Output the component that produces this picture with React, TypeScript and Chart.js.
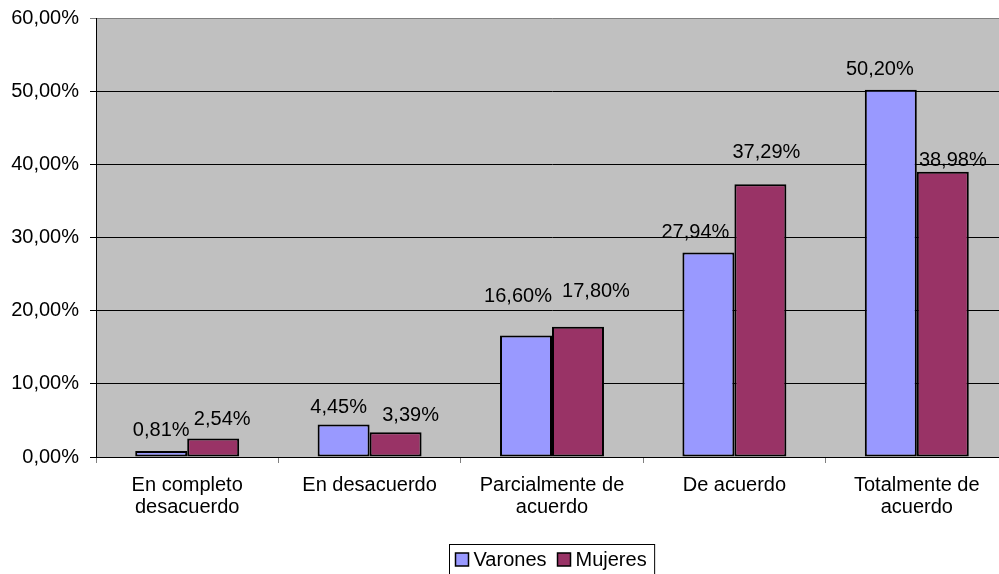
import React, { useEffect, useRef } from "react";
import { Chart, registerables } from "chart.js";

Chart.register(...registerables);

const categories: string[][] = [
  ["En completo", "desacuerdo"],
  ["En desacuerdo"],
  ["Parcialmente de", "acuerdo"],
  ["De acuerdo"],
  ["Totalmente de", "acuerdo"],
];
const seriesNames = ["Varones", "Mujeres"];
const varones = [0.81, 4.45, 16.6, 27.94, 50.2];
const mujeres = [2.54, 3.39, 17.8, 37.29, 38.98];
const yMin = 0;
const yMax = 60;
const yStep = 10;

// label placement nudges (style only): [dx, lift above bar top]
const varonesLabelShift = [[0, 15], [-5, 11], [-8, 34], [-13, 15], [-11, 15]];
const mujeresLabelShift = [[9, 13], [15, 11], [18, 30], [6, 26], [10, 6]];

const FONT = "Arial, 'Liberation Sans', sans-serif";
const FS = 20;
const fmt = (v: number) => v.toFixed(2).replace(".", ",") + "%";

const bgPlugin = {
  id: "plotBg",
  beforeDraw(chart: any) {
    const { ctx, chartArea: a } = chart;
    ctx.save();
    ctx.fillStyle = "#C0C0C0";
    ctx.fillRect(a.left, a.top, a.right - a.left, a.bottom - a.top);
    ctx.restore();
  },
};

const labelPlugin = {
  id: "valLabels",
  afterDatasetsDraw(chart: any) {
    const { ctx } = chart;
    const shifts = [varonesLabelShift, mujeresLabelShift];
    ctx.save();
    ctx.font = `${FS}px ${FONT}`;
    ctx.fillStyle = "#000";
    ctx.textAlign = "center";
    ctx.textBaseline = "alphabetic";
    chart.data.datasets.forEach((ds: any, di: number) => {
      const meta = chart.getDatasetMeta(di);
      meta.data.forEach((el: any, i: number) => {
        const [dx, lift] = shifts[di][i];
        ctx.fillText(fmt(ds.data[i]), el.x + dx, el.y - lift);
      });
    });
    ctx.restore();
  },
};

const legendPlugin = {
  id: "boxLegend",
  afterDraw(chart: any) {
    const { ctx, chartArea: a } = chart;
    ctx.save();
    ctx.font = `${FS}px ${FONT}`;
    const widths = chart.data.datasets.map((d: any) => ctx.measureText(d.label).width);
    const sw = 13;
    const total = 6 + (sw + 5 + widths[0]) + 11 + (sw + 5 + widths[1]) + 8;
    const cx = (a.left + a.right) / 2;
    const left = Math.round(cx - total / 2) + 0.5;
    const top = chart.height - 30 + 0.5;
    ctx.strokeStyle = "#000";
    ctx.lineWidth = 1;
    ctx.strokeRect(left, top, total, 40);
    let x = left + 6;
    const midY = top + 15;
    chart.data.datasets.forEach((d: any, i: number) => {
      ctx.fillStyle = d.backgroundColor;
      ctx.fillRect(x, midY - 6.5, sw, sw);
      ctx.lineWidth = 1.5;
      ctx.strokeRect(x, midY - 6.5, sw, sw);
      ctx.fillStyle = "#000";
      ctx.textAlign = "left";
      ctx.textBaseline = "middle";
      ctx.fillText(d.label, x + sw + 5, midY + 1);
      x += sw + 5 + widths[i] + 11;
    });
    ctx.restore();
  },
};

export default function App() {
  const ref = useRef<HTMLCanvasElement | null>(null);
  useEffect(() => {
    document.body.style.margin = "0";
    const canvas = ref.current!;
    const chart = new Chart(canvas, {
      type: "bar",
      data: {
        labels: categories,
        datasets: [
          {
            label: seriesNames[0],
            data: varones,
            backgroundColor: "#9999FF",
            borderColor: "#000",
            borderWidth: 2,
            borderSkipped: false,
            categoryPercentage: 0.57,
            barPercentage: 1,
          },
          {
            label: seriesNames[1],
            data: mujeres,
            backgroundColor: "#993366",
            borderColor: "#000",
            borderWidth: 2,
            borderSkipped: false,
            categoryPercentage: 0.57,
            barPercentage: 1,
          },
        ],
      },
      options: {
        responsive: false,
        animation: false,
        devicePixelRatio: 1,
        layout: { padding: { top: 18, right: 2, bottom: 50, left: 0 } },
        plugins: {
          legend: { display: false },
          tooltip: { enabled: false },
        },
        scales: {
          x: {
            grid: {
              display: true,
              drawOnChartArea: false,
              drawTicks: true,
              tickLength: 6,
              color: "#808080",
            },
            border: { display: true, color: "#000", width: 1 },
            ticks: {
              color: "#000",
              font: { family: FONT, size: FS, lineHeight: 22 / FS },
              padding: 11,
              maxRotation: 0,
              autoSkip: false,
            },
            afterFit(scale: any) {
              scale.height = 67;
              scale.paddingLeft = 0;
              scale.paddingRight = 0;
            },
          },
          y: {
            min: yMin,
            max: yMax,
            ticks: {
              stepSize: yStep,
              color: "#000",
              font: { family: FONT, size: FS },
              padding: 11,
              callback: (v: any) => fmt(Number(v)),
            },
            grid: {
              color: (c: any) => (c.tick && c.tick.value === yMax ? "#808080" : "#000"),
              lineWidth: 1,
              tickLength: 6,
              drawTicks: true,
            },
            border: { display: true, color: "#000", width: 1 },
            afterFit(scale: any) {
              scale.width = 96;
              scale.paddingTop = 0;
              scale.paddingBottom = 0;
            },
          },
        },
      },
      plugins: [bgPlugin, labelPlugin, legendPlugin],
    });
    return () => chart.destroy();
  }, []);
  return (
    <div style={{ width: 999, height: 574, overflow: "hidden", background: "#fff" }}>
      <canvas ref={ref} width={1010} height={574} style={{ display: "block" }} />
    </div>
  );
}
